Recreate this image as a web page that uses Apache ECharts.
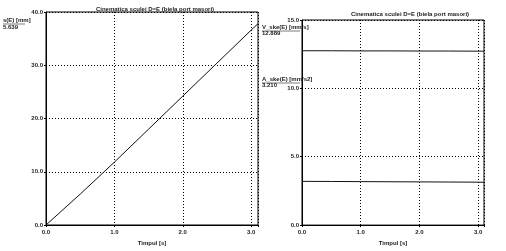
<!DOCTYPE html>
<html><head><meta charset="utf-8">
<script src="https://cdn.jsdelivr.net/npm/echarts@6/dist/echarts.min.js"></script>
<style>html,body{margin:0;padding:0;background:#fff}#c{width:506px;height:251px}</style>
</head><body><div id="c"></div>
<script>
const titleText = "Cinematica sculei D=E (biela port masori)";
const timeLeft = [0, 0.5, 1.0, 1.5, 2.0, 2.5, 3.0, 3.1];
const sValues = [0, 5.8, 11.8, 18.0, 24.2, 30.4, 36.6, 37.8];
const timeRight = [0, 0.5, 1.0, 1.5, 2.0, 2.5, 3.0, 3.1];
const vValues = [12.75, 12.75, 12.74, 12.74, 12.73, 12.73, 12.72, 12.72];
const aValues = [3.20, 3.19, 3.18, 3.17, 3.16, 3.15, 3.14, 3.13];
const xTicksLabel = "Timpul [s]";

const chart = echarts.init(document.getElementById('c'), null, {renderer:'canvas'});
const font = 'Liberation Sans, Arial, sans-serif';
function xAxis(gi){
  return {type:'value', gridIndex:gi, min:0, max:3.1, interval:1,
    axisLine:{show:true,lineStyle:{color:'#000',width:1}},
    axisTick:{show:true,length:2,lineStyle:{color:'#000'}},
    axisLabel:{fontSize:6,fontWeight:'bold',color:'#222',fontFamily:font,margin:4,
      formatter:v=> (Math.abs(v-Math.round(v))<1e-6 ? v.toFixed(1) : '')},
    splitLine:{show:true,lineStyle:{color:'#000',type:[1,2],width:1}},
    name:xTicksLabel, nameLocation:'middle', nameGap:12,
    nameTextStyle:{fontSize:6,fontWeight:'bold',color:'#222',fontFamily:font}};
}
function yAxis(gi,max,interval){
  return {type:'value', gridIndex:gi, min:0, max:max, interval:interval,
    axisLine:{show:true,lineStyle:{color:'#000',width:1}},
    axisTick:{show:true,length:2,lineStyle:{color:'#000'}},
    axisLabel:{fontSize:6,fontWeight:'bold',color:'#222',fontFamily:font,margin:3,
      formatter:v=>v.toFixed(1)},
    splitLine:{show:true,lineStyle:{color:'#000',type:[1,2],width:1}}};
}
const txt = (x,y,t)=>({type:'text',left:x,top:y,style:{text:t,fontSize:6,fontWeight:'bold',fill:'#222',fontFamily:font}});
chart.setOption({
  animation:false,
  title:[
    {text:titleText,left:150,top:1,textAlign:'center',textStyle:{fontSize:6,fontWeight:'bold',color:'#222',fontFamily:font}},
    {text:titleText,left:405,top:6,textAlign:'center',textStyle:{fontSize:6,fontWeight:'bold',color:'#222',fontFamily:font}}
  ],
  grid:[
    {left:46,top:12,right:248,bottom:26,show:true,borderColor:'#000',borderWidth:1},
    {left:302,top:20,right:22,bottom:23,show:true,borderColor:'#000',borderWidth:1}
  ],
  xAxis:[xAxis(0),xAxis(1)],
  yAxis:[yAxis(0,40,10),yAxis(1,15,5)],
  graphic:[
    txt(3,17,'s(E) [mm]'),
    {type:'line',shape:{x1:3,y1:24,x2:25,y2:24},style:{stroke:'#222',lineWidth:0.6}},
    txt(3,24,'5.639'),
    txt(262,24,'V_ske(E) [mm/s]'),
    {type:'line',shape:{x1:262,y1:31,x2:300,y2:31},style:{stroke:'#222',lineWidth:0.6}},
    txt(262,30,'12.889'),
    txt(262,76,'A_ske(E) [mm/s2]'),
    {type:'line',shape:{x1:262,y1:83,x2:300,y2:83},style:{stroke:'#222',lineWidth:0.6}},
    txt(262,82,'3.210')
  ],
  series:[
    {type:'line',xAxisIndex:0,yAxisIndex:0,data:timeLeft.map((t,i)=>[t,sValues[i]]),symbol:'none',lineStyle:{color:'#111',width:1}},
    {type:'line',xAxisIndex:1,yAxisIndex:1,data:timeRight.map((t,i)=>[t,vValues[i]]),symbol:'none',lineStyle:{color:'#111',width:1}},
    {type:'line',xAxisIndex:1,yAxisIndex:1,data:timeRight.map((t,i)=>[t,aValues[i]]),symbol:'none',lineStyle:{color:'#111',width:1}}
  ]
});
</script></body></html>
